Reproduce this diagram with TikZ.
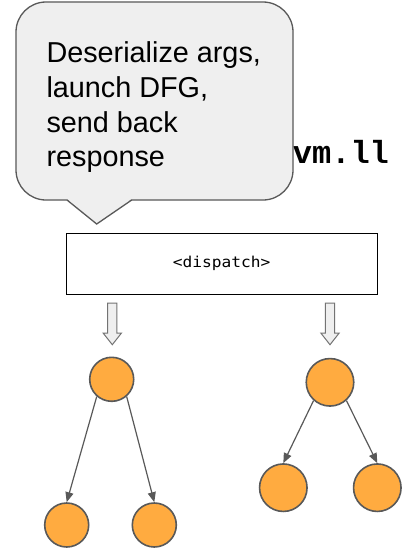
\documentclass[tikz,border=0pt]{standalone}
\usepackage{fontspec}
\setmainfont{Liberation Sans}
\newfontfamily\codefont{Liberation Mono}
\newfontfamily\dispfont[FakeStretch=1.08]{DejaVu Sans Mono}
\usetikzlibrary{arrows.meta}
\definecolor{linegray}{HTML}{595959}
\definecolor{bubblefill}{HTML}{EFEFEF}
\definecolor{nodeorange}{HTML}{FFAB40}
\tikzset{
  bubble/.style={draw=linegray, fill=bubblefill, line width=1.3pt},
  dispbox/.style={draw=black, line width=1.3pt, minimum width=311pt, minimum height=61pt, inner sep=0pt},
  dfgnode/.style={circle, draw=linegray, fill=nodeorange, line width=1.6pt, inner sep=0pt},
  small/.style={dfgnode, minimum size=44pt},
  large/.style={dfgnode, minimum size=47.5pt},
  edge/.style={draw=linegray, line width=1.2pt, -{Triangle[length=10pt,width=8pt]}},
  downarrow/.pic={
    \draw[draw=gray!90!black, fill=bubblefill, line width=1pt, line join=miter]
      (-4.6,0) -- (4.6,0) -- (4.6,30) -- (9.2,30) -- (0,41.7) -- (-9.2,30) -- (-4.6,30) -- cycle;
  }
}
\begin{document}
\begin{tikzpicture}[x=1pt, y=-1pt]
  \useasboundingbox[fill=white] (0,0) rectangle (403,551);

  % file name, partly hidden behind the speech bubble
  \node[anchor=base west, inner sep=0pt, font=\codefont\bfseries\fontsize{32}{36}\selectfont]
    (file) at (273.5,163.3) {pvm.ll};

  % speech bubble with its pointer
  \draw[bubble, rounded corners=30pt] (16,2) rectangle (293,200);
  \fill[bubblefill] (66.5,198.5) -- (96.7,224) -- (132.2,198.5) -- cycle;
  \draw[bubble, fill=none, line join=miter] (67,200) -- (96.7,224) -- (131.7,200);
  \node[anchor=base west, inner sep=0pt, align=left,
        font=\fontsize{28.8}{34.7}\selectfont] (note) at (46.3,166.8)
    {Deserialize args,\\launch DFG,\\send back\\response};

  % dispatch box
  \node[dispbox, font=\dispfont\fontsize{15}{17}\selectfont] (disp) at (221.7,263.7) {<dispatch>};

  % block arrows below the dispatcher
  \pic at (112.3,303) {downarrow};
  \pic at (330,303) {downarrow};

  % left graph
  \node[small] (lt) at (111.7,379.3) {};
  \node[small] (ll) at (66.7,525) {};
  \node[small] (lr) at (154.3,525) {};
  \draw[edge] (lt.-131) -- (ll.north);
  \draw[edge] (lt.-49) -- (lr.north);

  % right graph
  \node[large] (rt) at (330,382.3) {};
  \node[large] (rl) at (283.3,487.7) {};
  \node[large] (rr) at (377.3,487.7) {};
  \draw[edge] (rt.-132) -- (rl.north);
  \draw[edge] (rt.-48) -- (rr.north);
\end{tikzpicture}
\end{document}
